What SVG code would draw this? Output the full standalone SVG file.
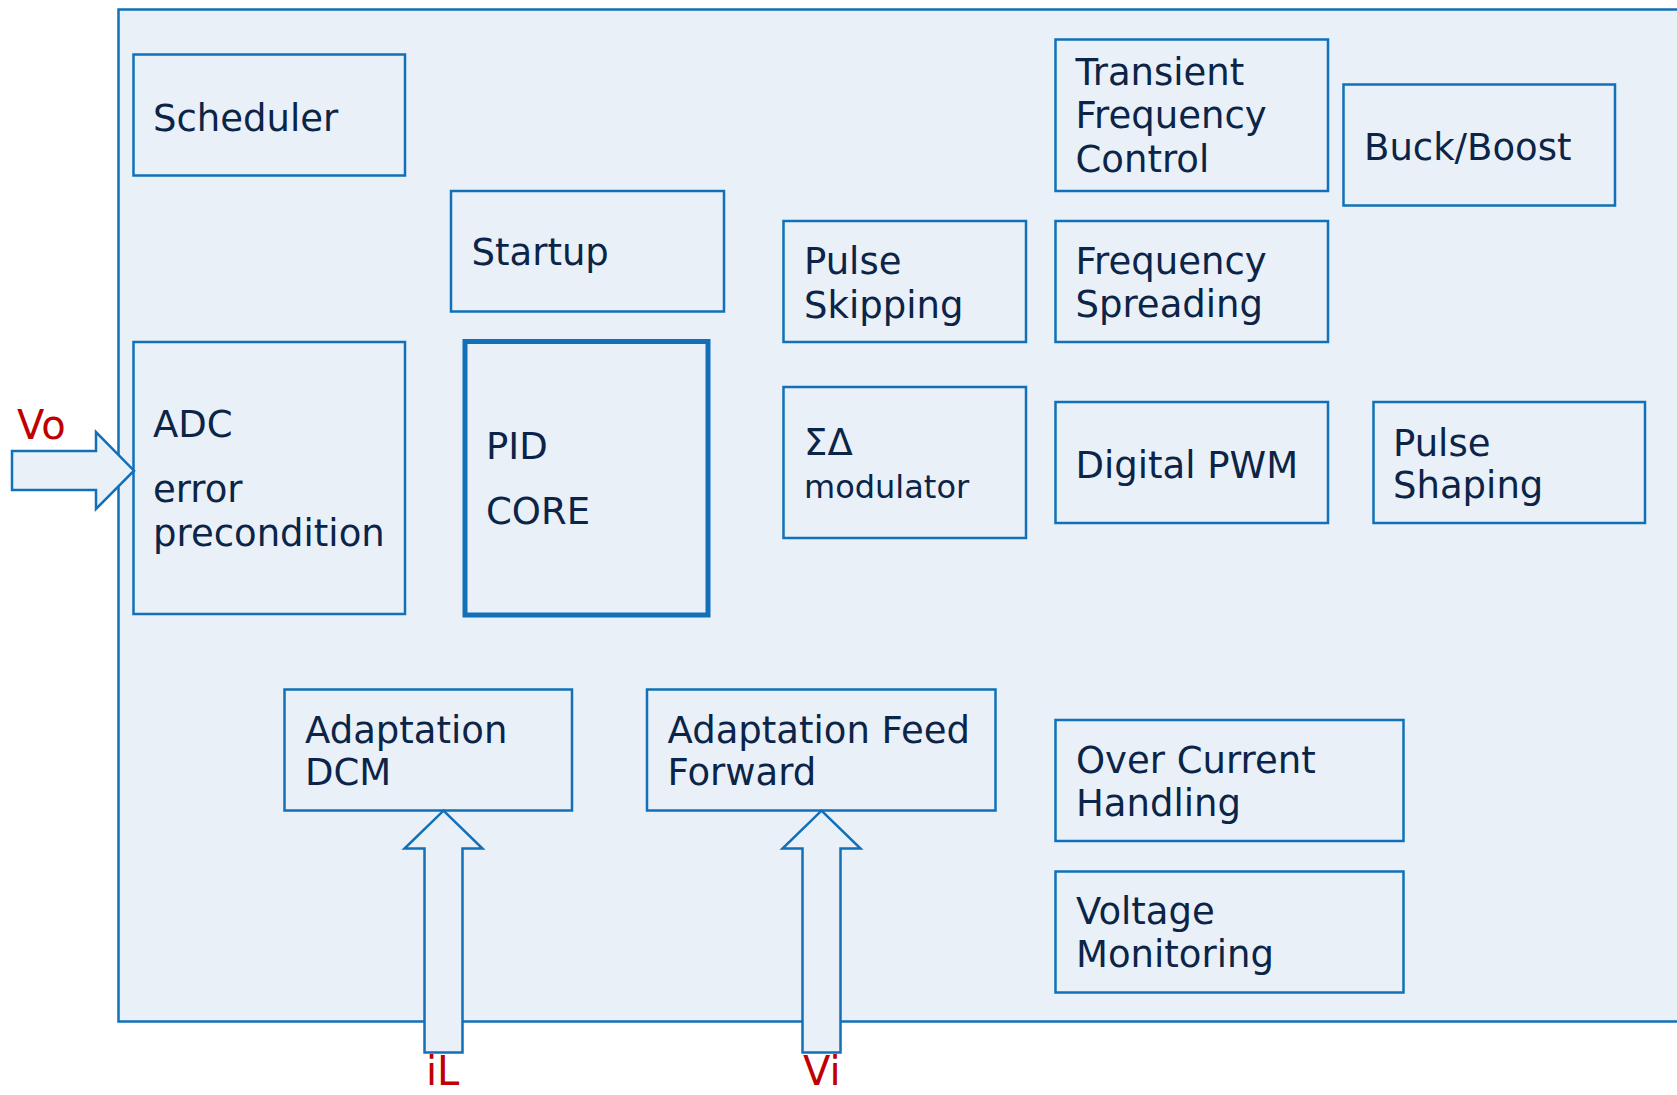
<svg xmlns="http://www.w3.org/2000/svg" width="1677" height="1095" viewBox="0 0 1677 1095">
  <style>
    .frame { fill: #e9f0f8; stroke: #1170b8; stroke-width: 2.5; }
    .box { fill: #e9f0f8; stroke: #1170b8; stroke-width: 2.5; }
    .box-core { fill: #e9f0f8; stroke: #1170b8; stroke-width: 5; }
    .label { font-family: "DejaVu Sans", Verdana, sans-serif; font-size: 37px; fill: #0b2447; }
    .label-small { font-family: "DejaVu Sans", Verdana, sans-serif; font-size: 32px; fill: #0b2447; }
    .signal { font-family: "DejaVu Sans", Verdana, sans-serif; font-size: 40px; fill: #c00000; }
    .port { fill: #e9f0f8; stroke: #1170b8; stroke-width: 2.5; stroke-linejoin: miter; }
  </style>

  <!-- controller boundary, runs past the right edge -->
  <rect id="controller" class="frame" x="118.5" y="9.5" width="1600" height="1012"/>

  <g id="scheduler">
    <rect class="box" x="133.5" y="54.5" width="271.5" height="121"/>
    <text class="label" x="153" y="130.5">Scheduler</text>
  </g>

  <g id="startup">
    <rect class="box" x="451" y="191" width="273" height="120.5"/>
    <text class="label" x="471.5" y="265">Startup</text>
  </g>

  <g id="adc">
    <rect class="box" x="133.5" y="342" width="271.5" height="272"/>
    <text class="label" x="153" y="437">ADC</text>
    <text class="label" x="153" y="502">error</text>
    <text class="label" x="153" y="545.5">precondition</text>
  </g>

  <g id="pid-core">
    <rect class="box-core" x="465" y="341.5" width="243" height="273.5"/>
    <text class="label" x="486" y="459">PID</text>
    <text class="label" x="486" y="524">CORE</text>
  </g>

  <g id="pulse-skipping">
    <rect class="box" x="783.5" y="221" width="242.5" height="121"/>
    <text class="label" x="804" y="274">Pulse</text>
    <text class="label" x="804" y="317.5">Skipping</text>
  </g>

  <g id="sigma-delta">
    <rect class="box" x="783.5" y="387" width="242.5" height="151"/>
    <text class="label" x="804" y="455">ΣΔ</text>
    <text class="label-small" x="804" y="497.5">modulator</text>
  </g>

  <g id="transient-frequency">
    <rect class="box" x="1055.5" y="39.5" width="272.5" height="151.5"/>
    <text class="label" x="1075.5" y="85">Transient</text>
    <text class="label" x="1075.5" y="128">Frequency</text>
    <text class="label" x="1075.5" y="172">Control</text>
  </g>

  <g id="buck-boost">
    <rect class="box" x="1343.5" y="84.5" width="271.5" height="121"/>
    <text class="label" x="1364" y="159.5">Buck/Boost</text>
  </g>

  <g id="frequency-spreading">
    <rect class="box" x="1055.5" y="221" width="272.5" height="121"/>
    <text class="label" x="1075.5" y="273.5">Frequency</text>
    <text class="label" x="1075.5" y="317">Spreading</text>
  </g>

  <g id="digital-pwm">
    <rect class="box" x="1055.5" y="402" width="272.5" height="121"/>
    <text class="label" x="1075.5" y="477.5">Digital PWM</text>
  </g>

  <g id="pulse-shaping">
    <rect class="box" x="1373.5" y="402" width="271.5" height="121"/>
    <text class="label" x="1393" y="456">Pulse</text>
    <text class="label" x="1393" y="498">Shaping</text>
  </g>

  <g id="adaptation-dcm">
    <rect class="box" x="284.5" y="689.5" width="287.5" height="121"/>
    <text class="label" x="305" y="742.5">Adaptation</text>
    <text class="label" x="305" y="784.5">DCM</text>
  </g>

  <g id="adaptation-feed-forward">
    <rect class="box" x="647" y="689.5" width="348.5" height="121"/>
    <text class="label" x="667.5" y="742.5">Adaptation Feed</text>
    <text class="label" x="667.5" y="784.5">Forward</text>
  </g>

  <g id="over-current">
    <rect class="box" x="1055.5" y="720" width="348" height="121"/>
    <text class="label" x="1076" y="772.5">Over Current</text>
    <text class="label" x="1076" y="816">Handling</text>
  </g>

  <g id="voltage-monitoring">
    <rect class="box" x="1055.5" y="871.5" width="348" height="121"/>
    <text class="label" x="1076" y="923.5">Voltage</text>
    <text class="label" x="1076" y="967">Monitoring</text>
  </g>

  <!-- input signals: block arrows into the controller -->
  <g id="connectors">
    <polygon class="port" points="12,451 96,451 96,432 134,470.7 96,509 96,490 12,490"/>
    <polygon class="port" points="443.5,810.7 482.5,848.5 462.5,848.5 462.5,1052.5 424.5,1052.5 424.5,848.5 404.5,848.5"/>
    <polygon class="port" points="821.5,810.7 860.5,848.5 840.5,848.5 840.5,1052.5 802.5,1052.5 802.5,848.5 782.5,848.5"/>
    <text class="signal" x="17" y="439">Vo</text>
    <text class="signal" x="426" y="1085">iL</text>
    <text class="signal" x="803" y="1085">Vi</text>
  </g>
</svg>
